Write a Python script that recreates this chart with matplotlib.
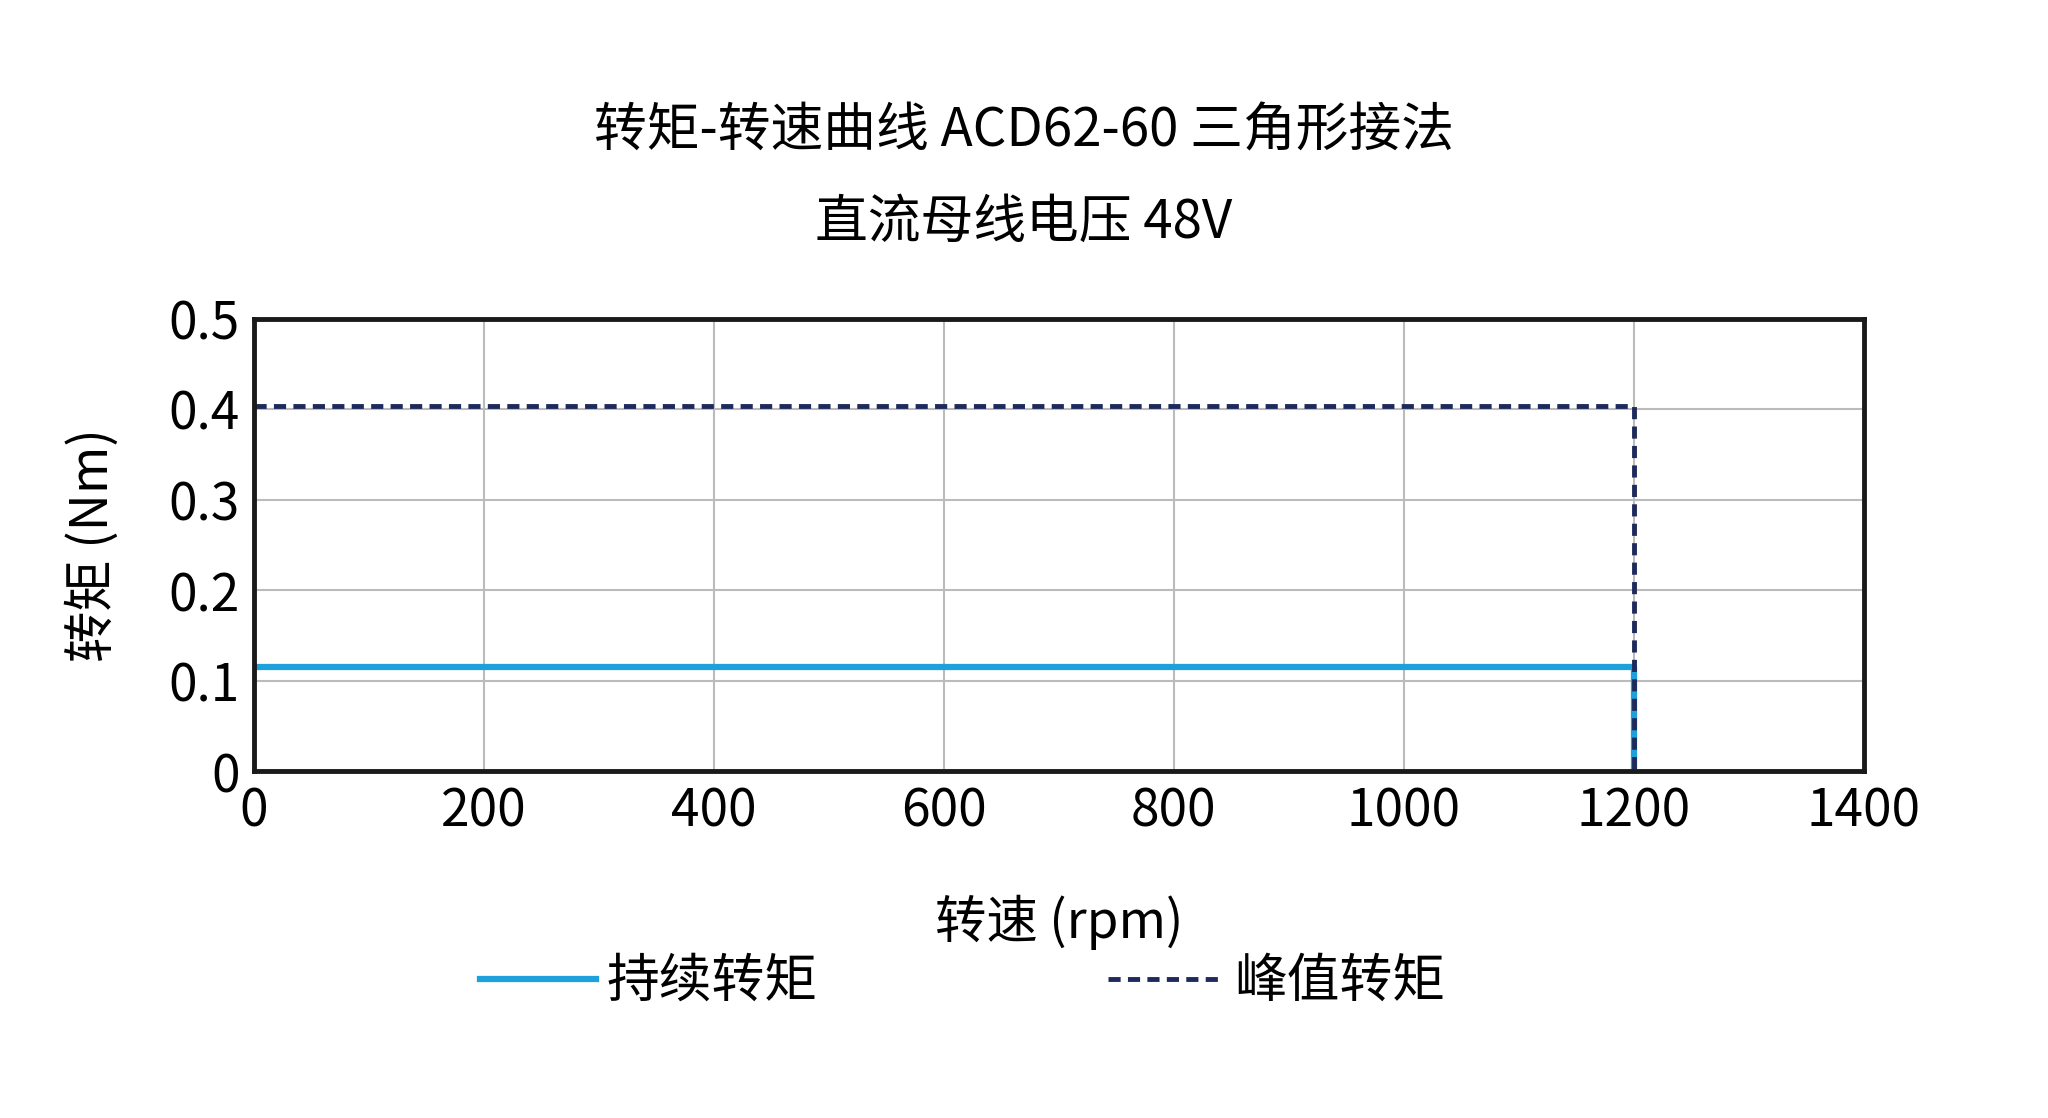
import matplotlib
matplotlib.use("Agg")
import matplotlib.pyplot as plt
from matplotlib.lines import Line2D

plt.rcParams['font.family'] = ['Noto Sans CJK SC', 'DejaVu Sans']

cont_speed = [0, 1200, 1200]
cont_torque = [0.115, 0.115, 0]
peak_speed = [0, 1200, 1200]
peak_torque = [0.403, 0.403, 0]
xticks = [0, 200, 400, 600, 800, 1000, 1200, 1400]
yticks = [0, 0.1, 0.2, 0.3, 0.4, 0.5]
ytick_labels = ['0', '0.1', '0.2', '0.3', '0.4', '0.5']

fig = plt.figure(figsize=(20.48, 11.18), dpi=100)
ax = fig.add_axes([0.124, 0.310, 0.786, 0.405])
blue = '#1ea0dc'
navy = '#1f2a5c'
ax.plot(cont_speed, cont_torque, color=blue, lw=4.5, solid_capstyle='butt')
ax.plot(peak_speed, peak_torque, color=navy, lw=3.5, ls=(0, (2.5, 1.5)))
ax.set_xlim(0, 1400)
ax.set_ylim(0, 0.5)
ax.set_xticks(xticks)
ax.set_yticks(yticks)
ax.set_yticklabels(ytick_labels)
ax.tick_params(labelsize=37, length=0, pad=10)
ax.grid(True, color='#bbbbbb', lw=1.5)
for s in ax.spines.values():
    s.set_linewidth(3.5)
    s.set_color('#1a1a1a')
ax.set_xlabel('转速 (rpm)', fontsize=37, labelpad=40)
ax.set_ylabel('转矩 (Nm)', fontsize=37, labelpad=35)
fig.text(0.5, 0.883, '转矩-转速曲线 ACD62-60 三角形接法', ha='center', va='center', fontsize=38)
fig.text(0.5, 0.801, '直流母线电压 48V', ha='center', va='center', fontsize=38)
handles = [Line2D([], [], color=blue, lw=4.5), Line2D([], [], color=navy, lw=3.5, ls=(0, (2.5, 1.5)))]
fig.legend(handles, ['持续转矩', '峰值转矩'], loc='center', bbox_to_anchor=(0.47, 0.122),
           ncol=2, frameon=False, fontsize=38, columnspacing=5.5, handlelength=2.2, handletextpad=0.2)
fig.savefig('out.png', dpi=100, facecolor='white')
